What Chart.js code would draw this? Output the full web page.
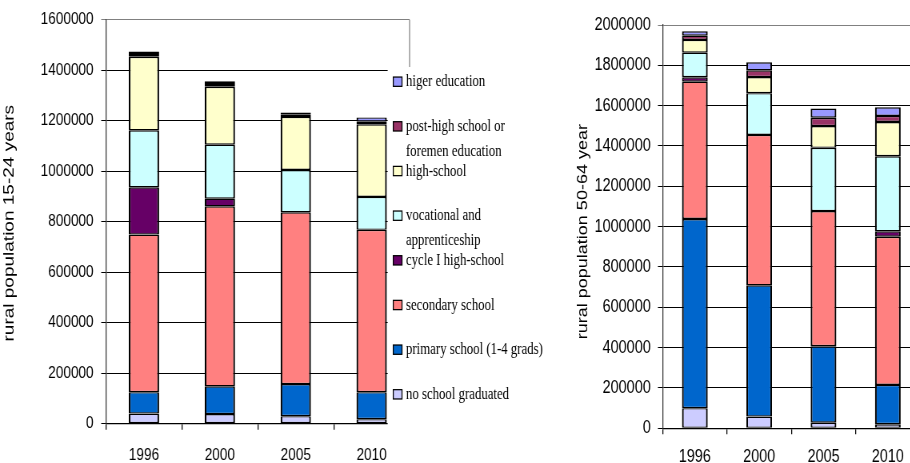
<!DOCTYPE html>
<html><head><meta charset="utf-8">
<script src="https://cdn.jsdelivr.net/npm/chart.js@4/dist/chart.umd.min.js"></script>
<style>
html,body{margin:0;padding:0;background:#fff;overflow:hidden;width:910px;height:463px;}
#wrap{position:relative;width:910px;height:463px;overflow:hidden;background:#fff;}
canvas{position:absolute;top:0;}
</style></head><body>
<div id="wrap">
<canvas id="c1" width="700" height="463" style="left:0;width:560px;height:463px"></canvas>
<canvas id="c2" width="450" height="463" style="left:560px;width:360px;height:463px"></canvas>
</div>
<script>
// ---- data ----
const categories = ['1996', '2000', '2005', '2010'];
const seriesNames = ['no school graduated', 'primary school (1-4 grads)', 'secondary school', 'cycle I high-school',
  'vocational and\napprenticeship', 'high-school', 'post-high school or\nforemen education', 'higer education'];
const seriesColors = ['#CCCCFF', '#0066CC', '#FF8080', '#660066', '#CCFFFF', '#FFFFCC', '#993366', '#9999FF'];

// rural population 15-24 years
const noSchool15   = [40000, 38000, 30000, 18000];
const primary15    = [85000, 110000, 127000, 107000];
const secondary15  = [624000, 713000, 680000, 643000];
const cycleI15     = [187000, 30000, null, null];
const vocational15 = [226000, 214000, 168000, 130000];
const highSchool15 = [291000, 229000, 210000, 288000];
const postHigh15   = [11000, 11000, 9000, 10000];
const higher15     = [10000, 11000, 8000, 17000];
const yTicks15 = [0, 200000, 400000, 600000, 800000, 1000000, 1200000, 1400000, 1600000];

// rural population 50-64 year
const noSchool50   = [100000, 58000, 28000, 20000];
const primary50    = [938000, 651000, 379000, 195000];
const secondary50  = [681000, 746000, 670000, 735000];
const cycleI50     = [22000, null, null, 27000];
const vocational50 = [122000, 207000, 314000, 372000];
const highSchool50 = [63000, 80000, 108000, 170000];
const postHigh50   = [21000, 33000, 41000, 30000];
const higher50     = [22000, 40000, 46000, 43000];
const yTicks50 = [0, 200000, 400000, 600000, 800000, 1000000, 1200000, 1400000, 1600000, 1800000, 2000000];

const yTitle15 = 'rural population 15-24 years';
const yTitle50 = 'rural population 50-64 year';

// ---- plugins ----
const framePlugin = {
  id: 'frame',
  afterDraw(chart, args, o) {
    if (!o || !o.right) return;
    const ctx = chart.ctx, a = chart.chartArea;
    ctx.save();
    ctx.strokeStyle = '#808080'; ctx.lineWidth = 1.25;
    ctx.beginPath(); ctx.moveTo(a.right, a.top); ctx.lineTo(a.right, a.bottom); ctx.stroke();
    ctx.restore();
  }
};
const legendPlugin = {
  id: 'legendBox',
  afterDraw(chart, args, o) {
    if (!o || !o.show) return;
    const ctx = chart.ctx;
    ctx.save();
    ctx.fillStyle = '#fff';
    ctx.fillRect(o.x0, o.y0, chart.width - o.x0, chart.height - o.y0);
    const ds = chart.data.datasets;
    ctx.font = o.font;
    ctx.textBaseline = 'middle';
    ctx.textAlign = 'left';
    for (let i = 0; i < ds.length; i++) {
      const d = ds[ds.length - 1 - i];
      const cy = o.first + i * o.gap;
      ctx.fillStyle = d.backgroundColor;
      ctx.fillRect(o.bx, cy - o.bh / 2, o.bw, o.bh);
      ctx.strokeStyle = '#000'; ctx.lineWidth = 1.25;
      ctx.strokeRect(o.bx, cy - o.bh / 2, o.bw, o.bh);
      ctx.fillStyle = '#000';
      d.label.split('\n').forEach((t, j) => ctx.fillText(t, o.tx, cy + o.dy + j * o.lh));
    }
    ctx.restore();
  }
};
const yTitlePlugin = {
  id: 'yTitle',
  afterDraw(chart, args, o) {
    if (!o || !o.text) return;
    const ctx = chart.ctx, a = chart.chartArea;
    ctx.save();
    ctx.translate(o.x, (a.top + a.bottom) / 2 + o.dy);
    ctx.rotate(-Math.PI / 2);
    ctx.font = o.font;
    ctx.fillStyle = '#000';
    ctx.textAlign = 'center';
    ctx.textBaseline = 'alphabetic';
    ctx.fillText(o.text, 0, 0);
    ctx.restore();
  }
};

function makeChart(id, series, o) {
  const max = o.ticks[o.ticks.length - 1];
  return new Chart(document.getElementById(id), {
    type: 'bar',
    data: {
      labels: categories,
      datasets: series.map((d, i) => ({
        label: seriesNames[i], data: d, backgroundColor: seriesColors[i],
        borderColor: '#000', borderWidth: { left: 2.2, right: 2.2, top: 1.4, bottom: 1.4 }, borderSkipped: false,
        barPercentage: 0.4, categoryPercentage: 1
      }))
    },
    options: {
      responsive: false, animation: false, devicePixelRatio: 1,
      layout: { padding: { left: 0, right: o.padRight, top: o.top, bottom: 0 } },
      plugins: {
        legend: { display: false }, tooltip: { enabled: false },
        legendBox: o.legend, frame: { right: o.frameRight },
        yTitle: o.title
      },
      scales: {
        x: {
          stacked: true, offset: true,
          grid: { offset: true, drawOnChartArea: false, drawTicks: true, tickLength: 6, color: '#000', lineWidth: 1.25 },
          border: { color: '#000', width: 1.25 },
          ticks: { color: '#000', font: { family: 'Liberation Sans, Arial, sans-serif', size: o.fs }, padding: o.xpad, maxRotation: 0, autoSkip: false },
          afterFit: s => { s.height = o.xh; }
        },
        y: {
          stacked: true, min: 0, max: max,
          afterBuildTicks: s => { s.ticks = o.ticks.map(v => ({ value: v })); },
          grid: { color: c => (c.tick && c.tick.value === max) ? '#808080' : '#000', lineWidth: 1, tickLength: 6, drawTicks: true },
          border: { color: '#333', width: 1.25 },
          ticks: { color: '#000', font: { family: 'Liberation Sans, Arial, sans-serif', size: o.fs }, padding: o.ypad,
            callback: v => String(v) },
          afterFit: s => { s.width = o.yw; }
        }
      }
    },
    plugins: [framePlugin, legendPlugin, yTitlePlugin]
  });
}

makeChart('c1',
  [noSchool15, primary15, secondary15, cycleI15, vocational15, highSchool15, postHigh15, higher15],
  {
    ticks: yTicks15, padRight: 188, top: 19.3, yw: 132.5, xh: 39.3, fs: 17, xpad: 15, ypad: 9.5,
    frameRight: true,
    legend: { show: true, x0: 484.6, y0: 67, bx: 491.6, bw: 10.9, bh: 9.3, tx: 507.5, first: 81.7, gap: 44.66, lh: 24.5, dy: 0.5,
      font: '16px "Liberation Serif", "Times New Roman", serif' },
    title: { text: yTitle15, x: 17, dy: 1.5, font: '19px "Liberation Sans", Arial, sans-serif' }
  });

makeChart('c2',
  [noSchool50, primary50, secondary50, cycleI50, vocational50, highSchool50, postHigh50, higher50],
  {
    ticks: yTicks50, padRight: 0, top: 25, yw: 128.4, xh: 34.7, fs: 18, xpad: 12, ypad: 9,
    frameRight: false,
    legend: { show: false },
    title: { text: yTitle50, x: 33.8, dy: 5, font: '18px "Liberation Sans", Arial, sans-serif' }
  });
</script>
</body></html>
